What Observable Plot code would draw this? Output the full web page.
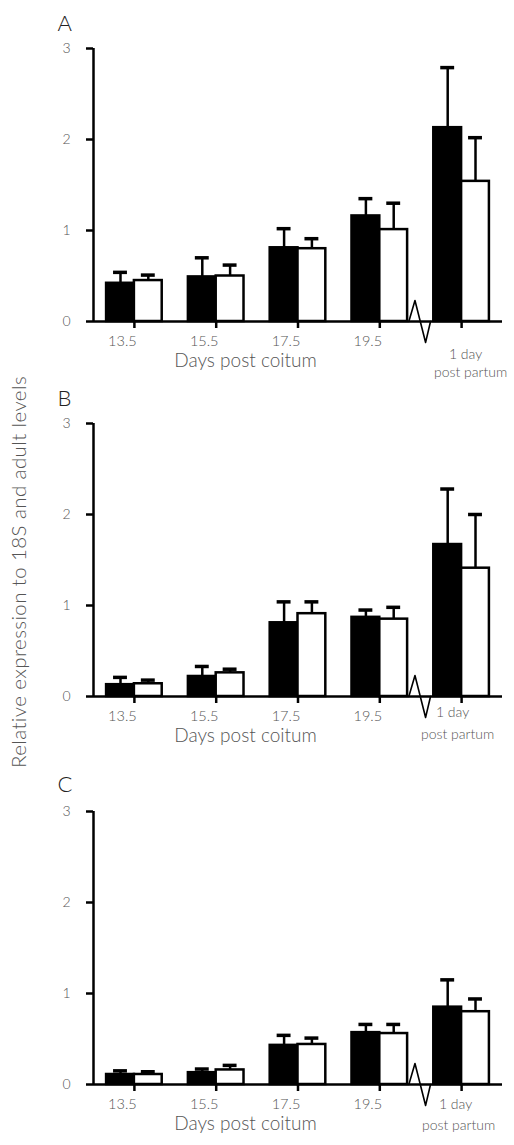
<!DOCTYPE html>
<html>
<head>
<meta charset="utf-8">
<script src="https://cdn.jsdelivr.net/npm/d3@7"></script>
<script src="https://cdn.jsdelivr.net/npm/@observablehq/plot@0.6"></script>
<style>
  html, body { margin: 0; padding: 0; background: #fff; }
  #wrap { position: relative; width: 514px; height: 1145px; overflow: hidden; font-family: Lato, "Open Sans", sans-serif; }
  .panel { position: absolute; left: 0; z-index: 1; }
  #ytitle { position: absolute; z-index: 5; left: 18px; top: 572px; transform: translate(-50%, -50%) rotate(-90deg); white-space: nowrap; font-size: 20.5px; letter-spacing: 0.4px; font-weight: 300; color: #555; }
</style>
</head>
<body>
<div id="wrap">
  <div id="ytitle">Relative expression to 18S and adult levels</div>
</div>
<script>
// ---- data ----
const categories = ["13.5", "15.5", "17.5", "19.5", "1 day"];
const tickLabels = ["13.5", "15.5", "17.5", "19.5"];
const lastLabel = ["1 day", "post partum"];
const panelLetters = ["A", "B", "C"];
const yTicks = [0, 1, 2, 3];
const xLabel = "Days post coitum";

const blackA = [0.42, 0.49, 0.81, 1.16, 2.13];
const blackSemA = [0.12, 0.21, 0.21, 0.19, 0.66];
const whiteA = [0.45, 0.50, 0.80, 1.01, 1.54];
const whiteSemA = [0.06, 0.12, 0.11, 0.29, 0.48];

const blackB = [0.13, 0.22, 0.81, 0.87, 1.67];
const blackSemB = [0.08, 0.11, 0.23, 0.08, 0.61];
const whiteB = [0.14, 0.26, 0.91, 0.85, 1.41];
const whiteSemB = [0.04, 0.04, 0.13, 0.13, 0.59];

const blackC = [0.11, 0.13, 0.43, 0.57, 0.85];
const blackSemC = [0.04, 0.04, 0.11, 0.09, 0.30];
const whiteC = [0.11, 0.16, 0.44, 0.56, 0.80];
const whiteSemC = [0.03, 0.05, 0.07, 0.10, 0.14];

// axis break glyph (in data units, between 19.5 and 1 day)
const breakX = [3.355, 3.43, 3.56, 3.62];
const breakY = [0, 0.23, -0.23, 0];

// ---- layout ----
const barW = 0.34;
const capHalf = 0.085;
const font = "Lato, 'Open Sans', sans-serif";
const textGray = "#555";

const panels = [
  {letter: panelLetters[0], black: blackA, bSem: blackSemA, white: whiteA, wSem: whiteSemA,
   top: 0, height: 380, mt: 48, mb: 59, dayDx: 4, dayDy: 37, ppDx: 9, ppDy: 55, letterDy: -33},
  {letter: panelLetters[1], black: blackB, bSem: blackSemB, white: whiteB, wSem: whiteSemB,
   top: 380, height: 380, mt: 43, mb: 64, dayDx: -9, dayDy: 20, ppDx: -4, ppDy: 42, letterDy: -33},
  {letter: panelLetters[2], black: blackC, bSem: blackSemC, white: whiteC, wSem: whiteSemC,
   top: 760, height: 385, mt: 51, mb: 61, dayDx: -6, dayDy: 24, ppDx: -3, ppDy: 45, letterDy: -35}
];

function makePanel(p) {
  const rows = categories.map((c, i) => ({
    i, c, bm: p.black[i], bs: p.bSem[i], wm: p.white[i], ws: p.wSem[i]
  }));
  const brk = breakX.map((x, k) => ({x, y: breakY[k]}));
  const labelRows = tickLabels.map((t, i) => ({i, t}));
  return Plot.plot({
    width: 514,
    height: p.height,
    marginTop: p.mt,
    marginBottom: p.mb,
    marginLeft: 93,
    marginRight: 12,
    x: {domain: [-0.5, 4.5]},
    y: {domain: [0, 3]},
    style: {fontFamily: font, color: "black", background: "transparent", overflow: "visible"},
    marks: [
      // bars
      Plot.rectY(rows, {x1: d => d.i - barW, x2: d => d.i, y1: 0, y2: "bm", fill: "black", stroke: "black", strokeWidth: 2.5}),
      Plot.rectY(rows, {x1: d => d.i, x2: d => d.i + barW, y1: 0, y2: "wm", fill: "white", stroke: "black", strokeWidth: 2.5}),
      // error bars (upper)
      Plot.ruleX(rows, {x: d => d.i - barW / 2, y1: "bm", y2: d => d.bm + d.bs, stroke: "black", strokeWidth: 2.5}),
      Plot.ruleY(rows, {y: d => d.bm + d.bs, x1: d => d.i - barW / 2 - capHalf, x2: d => d.i - barW / 2 + capHalf, stroke: "black", strokeWidth: 3.5}),
      Plot.ruleX(rows, {x: d => d.i + barW / 2, y1: "wm", y2: d => d.wm + d.ws, stroke: "black", strokeWidth: 2.5}),
      Plot.ruleY(rows, {y: d => d.wm + d.ws, x1: d => d.i + barW / 2 - capHalf, x2: d => d.i + barW / 2 + capHalf, stroke: "black", strokeWidth: 3.5}),
      // axes lines
      Plot.ruleY([0], {stroke: "black", strokeWidth: 2.5}),
      Plot.ruleX([-0.5], {y1: 0, y2: 3, stroke: "black", strokeWidth: 2.5}),
      Plot.axisY({ticks: yTicks, tickSize: 7, tickPadding: 16, tickFormat: d3.format("d"), stroke: "black", strokeWidth: 2.5, fill: textGray, fontSize: 14, fontWeight: 300, label: null}),
      Plot.axisX({ticks: [0, 1, 2, 3, 4], tickSize: 7, tickFormat: () => "", stroke: "black", strokeWidth: 2.5, label: null}),
      // axis break
      Plot.line(brk, {x: "x", y: "y", stroke: "black", strokeWidth: 1.6}),
      // tick labels
      Plot.text(labelRows, {x: "i", text: "t", frameAnchor: "bottom", dx: -12, dy: 24, fill: textGray, fontSize: 14.5, fontWeight: 300}),
      Plot.text([lastLabel[0]], {x: () => 4, text: d => d, frameAnchor: "bottom", dx: p.dayDx, dy: p.dayDy, fill: textGray, fontSize: 14, fontWeight: 300}),
      Plot.text([lastLabel[1]], {x: () => 4, text: d => d, frameAnchor: "bottom", dx: p.ppDx, dy: p.ppDy, fill: textGray, fontSize: 14, fontWeight: 300}),
      // x label
      Plot.text([xLabel], {frameAnchor: "bottom-left", text: d => d, dx: 152, dy: 45, textAnchor: "middle", fill: textGray, fontSize: 19, fontWeight: 300}),
      // panel letter
      Plot.text([p.letter], {frameAnchor: "top-left", text: d => d, dx: -36, dy: p.letterDy, textAnchor: "start", fill: "#222", fontSize: 22, fontWeight: 300})
    ]
  });
}

const wrap = document.getElementById("wrap");
for (const p of panels) {
  const div = document.createElement("div");
  div.className = "panel";
  div.style.top = p.top + "px";
  div.appendChild(makePanel(p));
  wrap.appendChild(div);
}
</script>
</body>
</html>
